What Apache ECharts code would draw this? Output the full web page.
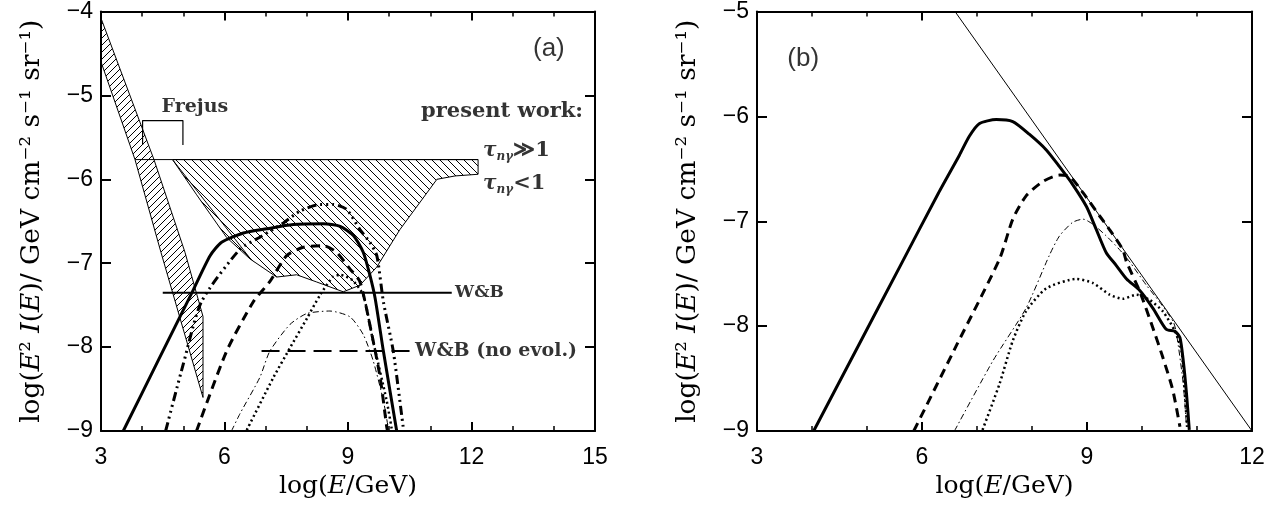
<!DOCTYPE html>
<html><head><meta charset="utf-8">
<script src="https://cdn.jsdelivr.net/npm/echarts@6/dist/echarts.min.js"></script>
<style>html,body{margin:0;padding:0;background:#fff}#c{width:1279px;height:508px}</style>
</head><body><div id="c"></div>
<script>
// ---------- data : panel (a) ----------
const xTicksA = [3, 6, 9, 12, 15];
const yTicksA = [-9, -8, -7, -6, -5, -4];
const frejusRight = [[3,-4.08],[4.287,-5.765],[5.04,-6.87],[5.478,-7.635]];
const frejusLeft  = [[3,-4.60],[3.826,-5.765],[4.457,-6.871],[5.478,-8.60]];
const frejusBracket = [[4.01,-5.59],[4.01,-5.30],[4.99,-5.30],[4.99,-5.59]];
const presentTop = [[4.749,-5.765],[12.16,-5.765]];
const presentBottom = [[4.749,-5.773],[5.324,-6.185],[6.053,-6.694],[6.619,-6.949],[7.268,-7.165],[7.753,-7.138],[8.239,-7.224],[8.885,-7.341],[9.291,-7.262],[9.697,-7.047],[10.26,-6.6],[11.16,-6.0],[11.6,-5.96],[12.16,-5.94]];
const tauLine = [[3.83,-5.765],[12.16,-5.765]];
const fanLine = [[4.749,-5.773],[6.619,-6.94]];
const wbLine = [[4.5,-7.353],[11.52,-7.353]];
const wbNoEvol = [[6.9,-8.047],[10.5,-8.047]];
const aSolid = [[3.54,-9.0],[4.4,-8.15],[5.21,-7.35],[5.65,-6.91],[5.93,-6.75],[6.46,-6.64],[7.02,-6.59],[7.67,-6.54],[8.40,-6.53],[8.81,-6.56],[9.13,-6.67],[9.37,-6.87],[9.53,-7.14],[9.66,-7.42],[9.86,-8.05],[10.18,-8.99]];
const aDashDots = [[4.57,-9.0],[5.0,-8.2],[5.44,-7.46],[6.38,-6.83],[6.86,-6.69],[7.43,-6.52],[7.83,-6.38],[8.32,-6.30],[8.64,-6.30],[8.97,-6.36],[9.29,-6.60],[9.53,-6.75],[9.70,-6.91],[9.86,-7.46],[10.10,-8.05],[10.34,-8.95],[10.36,-9.0]];
const aDashed = [[5.32,-9.0],[6.05,-8.05],[6.70,-7.46],[7.10,-7.22],[7.51,-6.91],[7.91,-6.81],[8.40,-6.79],[8.72,-6.87],[9.05,-7.07],[9.29,-7.22],[9.53,-7.73],[9.78,-8.36],[9.94,-8.95],[9.96,-9.0]];
const aDotted = [[6.54,-8.99],[7.19,-8.36],[7.59,-8.01],[8.0,-7.66],[8.32,-7.38],[8.64,-7.16],[8.81,-7.14],[9.10,-7.2],[9.37,-7.38],[9.61,-7.93],[9.94,-8.64],[10.06,-8.97]];
const aThinDashDot = [[6.17,-9.0],[6.38,-8.79],[6.86,-8.36],[7.10,-8.05],[7.59,-7.73],[8.0,-7.60],[8.56,-7.57],[9.05,-7.64],[9.37,-7.85],[9.61,-8.16],[9.86,-8.64],[9.98,-8.97]];
// ---------- data : panel (b) ----------
const xTicksB = [3, 6, 9, 12];
const yTicksB = [-9, -8, -7, -6, -5];
const bLimit = [[6.6,-5.0],[12.0,-9.0]];
const bSolid = [[4.03,-9.0],[4.8,-8.23],[5.6,-7.43],[6.3,-6.73],[6.68,-6.37],[6.86,-6.19],[7.04,-6.07],[7.35,-6.03],[7.65,-6.05],[7.95,-6.17],[8.26,-6.32],[8.50,-6.48],[8.74,-6.65],[8.99,-6.86],[9.17,-7.08],[9.35,-7.30],[9.53,-7.42],[9.72,-7.55],[9.96,-7.66],[10.2,-7.83],[10.44,-8.03],[10.6,-8.05],[10.69,-8.11],[10.75,-8.33],[10.81,-8.65],[10.86,-8.99]];
const bDashed = [[5.85,-9.0],[6.64,-8.17],[7.41,-7.36],[7.65,-6.98],[7.89,-6.76],[8.20,-6.62],[8.50,-6.56],[8.68,-6.57],[8.93,-6.73],[9.23,-6.95],[9.41,-7.08],[9.65,-7.27],[9.72,-7.39],[9.96,-7.67],[10.20,-8.02],[10.38,-8.30],[10.56,-8.61],[10.69,-8.96]];
const bThinDashDot = [[6.59,-9.0],[7.29,-8.33],[7.89,-7.83],[8.32,-7.32],[8.5,-7.14],[8.74,-7.01],[8.93,-6.98],[9.11,-7.03],[9.35,-7.14],[9.59,-7.27],[9.78,-7.39],[10.08,-7.61],[10.32,-7.77],[10.57,-7.96],[10.63,-8.08],[10.75,-8.55],[10.81,-8.96]];
const bDotted = [[7.10,-8.99],[7.41,-8.55],[7.65,-8.14],[7.89,-7.86],[8.26,-7.64],[8.81,-7.55],[9.11,-7.59],[9.41,-7.70],[9.65,-7.74],[9.90,-7.70],[10.14,-7.75],[10.38,-7.86],[10.6,-8.05],[10.72,-8.24],[10.78,-8.65],[10.82,-8.96]];
// ---------- text annotations ----------
const labelsA = [
  {pos:[13.88,-4.45], text:'(a)', kind:'panel', align:'center', size:26},
  {pos:[14.71,-5.19], text:'present work:', kind:'serif', align:'right', size:21},
  {pos:[12.28,-5.66], text:'{tau|τ}{sub|nγ}{op|≫1}', kind:'rich', align:'left', size:20},
  {pos:[12.28,-6.05], text:'{tau|τ}{sub|nγ}{op|<1}', kind:'rich', align:'left', size:20},
  {pos:[5.28,-5.14], text:'Frejus', kind:'serif', align:'center', size:19},
  {pos:[11.6,-7.35], text:'W&B', kind:'serif', align:'left', size:17},
  {pos:[10.63,-8.05], text:'W&B (no evol.)', kind:'serif', align:'left', size:19}
];
const labelsB = [
  {pos:[3.84,-5.45], text:'(b)', kind:'panel', align:'center', size:26}
];

// ---------- hatch patterns ----------
function hatch(d, dir, lw){
  const c = document.createElement('canvas'); c.width = d; c.height = d;
  const g = c.getContext('2d'); g.strokeStyle = '#000'; g.lineWidth = lw; g.beginPath();
  if (dir === '/') {
    g.moveTo(0,d); g.lineTo(d,0); g.moveTo(-1,1); g.lineTo(1,-1); g.moveTo(d-1,d+1); g.lineTo(d+1,d-1);
  } else {
    g.moveTo(0,0); g.lineTo(d,d); g.moveTo(d-1,-1); g.lineTo(d+1,1); g.moveTo(-1,d-1); g.lineTo(1,d+1);
  }
  g.stroke();
  return {image: c, repeat: 'repeat'};
}
const hatchFrejus = hatch(7, '/', 1);
const hatchPresent = hatch(8, '\\', 1);

function polySeries(points, fill, xi, yi){
  return {type:'custom', xAxisIndex:xi, yAxisIndex:yi, data: points, z: 2, silent:true,
    renderItem: function(params, api){
      if (params.dataIndex !== 0) return null;
      const pts = points.map(p => api.coord(p));
      return {type:'polygon', shape:{points: pts}, style:{fill: fill, stroke:'#000', lineWidth:1}};
    }};
}
function lineSeries(data, xi, yi, width, type, z){
  return {type:'line', xAxisIndex:xi, yAxisIndex:yi, data:data, showSymbol:false, symbol:'none', silent:true,
    smooth: 0, z: z || 3, lineStyle:{color:'#000', width:width, type:type || 'solid', cap:'butt'}};
}
function curveSeries(data, xi, yi, width, type){
  const s = lineSeries(data, xi, yi, width, type, 4); s.smooth = 0.22; return s;
}
const serifFont = 'DejaVu Serif';
function labelSeries(list, xi, yi){
  return {type:'scatter', xAxisIndex:xi, yAxisIndex:yi, symbolSize:0, silent:true, z:10,
    data: list.map(l => ({value:l.pos, label:{show:true, position:[0,0], formatter:l.text, align:l.align, verticalAlign:'middle',
      color:'#000',
      fontFamily: l.kind === 'panel' ? 'Liberation Sans' : serifFont,
      fontWeight: l.kind === 'panel' ? 'normal' : 'bold',
      fontSize: l.size,
      rich: {
        tau:{fontFamily:serifFont, fontStyle:'italic', fontWeight:'bold', fontSize:20, color:'#000', verticalAlign:'middle', lineHeight:24},
        sub:{fontFamily:serifFont, fontStyle:'italic', fontWeight:'bold', fontSize:12, color:'#000', verticalAlign:'bottom', lineHeight:24},
        op:{fontFamily:serifFont, fontSize:21, color:'#000', verticalAlign:'middle', lineHeight:24}
      }}}))};
}

const minus = v => (v < 0 ? '\u2212' + Math.abs(v) : String(v));
const tickFont = {fontFamily:'Liberation Sans', fontSize:23, color:'#000'};
function xAx(grid, min, max, pos, showName){
  return {type:'value', gridIndex:grid, min:min, max:max, interval:3, position:pos,
    axisLine:{show:true, onZero:false, lineStyle:{color:'#000', width:2}},
    axisTick:{show:true, inside:true, length:9, lineStyle:{color:'#000', width:2}},
    minorTick:{show:true, splitNumber:3, length:5, lineStyle:{color:'#000', width:1.5}},
    splitLine:{show:false}, minorSplitLine:{show:false},
    axisLabel: showName ? Object.assign({show:true, margin:15, formatter:minus}, tickFont) : {show:false},
    name: showName ? 'log({it|E}/GeV)' : '', nameLocation:'middle', nameGap:40,
    nameTextStyle:{fontFamily:serifFont, fontSize:25, color:'#000',
      rich:{it:{fontFamily:serifFont, fontStyle:'italic', fontSize:25, color:'#000'}}}};
}
function yAx(grid, min, max, pos, showName){
  return {type:'value', gridIndex:grid, min:min, max:max, interval:1, position:pos,
    axisLine:{show:true, onZero:false, lineStyle:{color:'#000', width:2}},
    axisTick:{show:true, inside:true, length:10, lineStyle:{color:'#000', width:2}},
    splitLine:{show:false},
    axisLabel: showName ? Object.assign({show:true, margin:8, formatter:minus}, tickFont) : {show:false},
    name: showName ? 'log({it|E}² {it|I}({it|E})/ GeV cm⁻² s⁻¹ sr⁻¹)' : '', nameLocation:'middle', nameGap:55,
    nameTextStyle:{fontFamily:serifFont, fontSize:26.5, color:'#000',
      rich:{it:{fontFamily:serifFont, fontStyle:'italic', fontSize:26.5, color:'#000'}}}};
}

const frejusPoly = frejusRight.concat(frejusLeft.slice().reverse());
const presentPoly = presentTop.concat(presentBottom.slice().reverse());

const chart = echarts.init(document.getElementById('c'), null, {renderer:'canvas'});
chart.setOption({
  backgroundColor:'#fff', animation:false,
  grid:[{left:101, right:684, top:6, bottom:77}, {left:757, right:27, top:6, bottom:77}],
  xAxis:[xAx(0,3,15,'bottom',true), xAx(0,3,15,'top',false), xAx(1,3,12,'bottom',true), xAx(1,3,12,'top',false)],
  yAxis:[yAx(0,-9,-4,'left',true), yAx(0,-9,-4,'right',false), yAx(1,-9,-5,'left',true), yAx(1,-9,-5,'right',false)],
  series:[
    polySeries(frejusPoly, hatchFrejus, 0, 0),
    polySeries(presentPoly, hatchPresent, 0, 0),
    lineSeries(tauLine, 0, 0, 1),
    lineSeries(fanLine, 0, 0, 1),
    lineSeries(frejusBracket, 0, 0, 1.2),
    lineSeries(wbLine, 0, 0, 2),
    lineSeries(wbNoEvol, 0, 0, 2, [18, 8]),
    curveSeries(aSolid, 0, 0, 3),
    curveSeries(aDashDots, 0, 0, 3, [9,4,2,4,2,4,2,4]),
    curveSeries(aDashed, 0, 0, 3, [9,6]),
    curveSeries(aDotted, 0, 0, 2.5, [2,3]),
    curveSeries(aThinDashDot, 0, 0, 1, [6,3,1.5,3]),
    lineSeries(bLimit, 2, 2, 1),
    curveSeries(bSolid, 2, 2, 3),
    curveSeries(bDashed, 2, 2, 3, [9,6]),
    curveSeries(bThinDashDot, 2, 2, 1, [6,3,1.5,3]),
    curveSeries(bDotted, 2, 2, 2.5, [2,3]),
    labelSeries(labelsA, 0, 0),
    labelSeries(labelsB, 2, 2)
  ]
});
</script></body></html>
